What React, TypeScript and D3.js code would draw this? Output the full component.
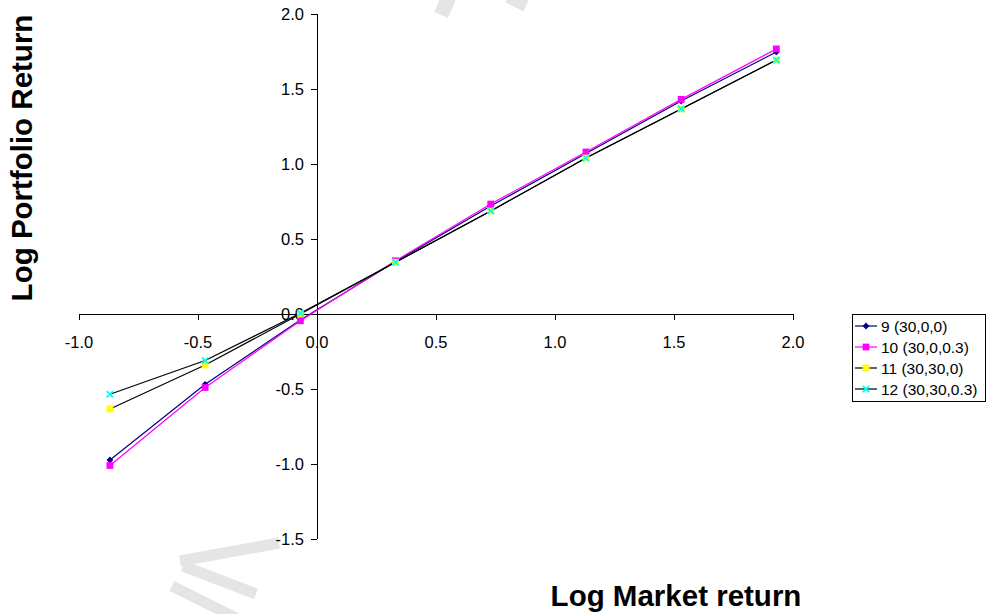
import React from "react";
import * as d3 from "d3";

const xValues = [-0.87, -0.47, -0.07, 0.33, 0.73, 1.13, 1.53, 1.93];
const series9 = [-0.973, -0.469, -0.04, 0.35, 0.72, 1.07, 1.42, 1.747];
const series10 = [-1.01, -0.49, -0.045, 0.355, 0.733, 1.08, 1.431, 1.767];
const series11 = [-0.633, -0.34, 0.0, 0.345, 0.687, 1.04, 1.367, 1.693];
const series12 = [-0.535, -0.31, 0.005, 0.345, 0.687, 1.04, 1.367, 1.693];
const seriesNames = ["9 (30,0,0)", "10 (30,0,0.3)", "11 (30,30,0)", "12 (30,30,0.3)"];
const xTicks = [-1.0, -0.5, 0.0, 0.5, 1.0, 1.5, 2.0];
const yTicks = [-1.5, -1.0, -0.5, 0.0, 0.5, 1.0, 1.5, 2.0];

const FONT = "'Liberation Sans', Arial, sans-serif";

type Marker = "diamond" | "square" | "x";
const seriesStyle: { line: string; fill: string; marker: Marker }[] = [
  { line: "#000080", fill: "#000080", marker: "diamond" },
  { line: "#FF00FF", fill: "#FF00FF", marker: "square" },
  { line: "#000000", fill: "#FFFF00", marker: "square" },
  { line: "#000000", fill: "#00FFFF", marker: "x" },
];

function MarkerShape({ type, x, y, color }: { type: Marker; x: number; y: number; color: string }) {
  if (type === "diamond") {
    const s = 3.4;
    return <path d={`M${x},${y - s}L${x + s},${y}L${x},${y + s}L${x - s},${y}Z`} fill={color} />;
  }
  if (type === "square") {
    const s = 3.4;
    return <rect x={x - s} y={y - s} width={2 * s} height={2 * s} fill={color} />;
  }
  const s = 3.2;
  return (
    <path d={`M${x - s},${y - s}L${x + s},${y + s}M${x - s},${y + s}L${x + s},${y - s}`} stroke={color} strokeWidth={1.8} fill="none" />
  );
}

const fmt = (t: number) => t.toFixed(1);

export default function App() {
  const width = 992;
  const height = 614;
  const x = d3.scaleLinear().domain([-1, 2]).range([79, 793]);
  const y = d3.scaleLinear().domain([-1.5, 2]).range([539, 14]);
  const allSeries = [series9, series10, series11, series12];
  const line = d3
    .line<number>()
    .x((_, i) => x(xValues[i]))
    .y((d) => y(d));
  const x0 = x(0);
  const y0 = y(0);
  const legendX = 852;
  const legendY = 314;
  const legendRowY = [326, 347, 368, 389];

  return (
    <svg
      width={width}
      height={height}
      style={{ position: "absolute", left: 0, top: 0, background: "#fff" }}
      fontFamily={FONT}
    >
      <rect width={width} height={height} fill="#fff" />
      {/* watermark fragments */}
      <g stroke="#e5e5e5" strokeWidth={11} fill="none" strokeLinecap="butt">
        <line x1={441} y1={15} x2={449} y2={-3} strokeWidth={15} />
        <line x1={508} y1={-3} x2={526} y2={6} strokeWidth={12} />
        <line x1={180} y1={561} x2={279} y2={543} />
        <line x1={183} y1={566} x2={256} y2={594} />
        <line x1={172} y1={586} x2={236} y2={618} />
      </g>

      {/* axes */}
      <g stroke="#000" strokeWidth={1} shapeRendering="crispEdges">
        <line x1={x(-1)} x2={x(2)} y1={y0} y2={y0} />
        <line x1={x0} x2={x0} y1={y(2)} y2={y(-1.5)} />
        {xTicks.map((t) => (
          <line key={"xt" + t} x1={x(t)} x2={x(t)} y1={y0} y2={y0 + 6} />
        ))}
        {yTicks.map((t) => (
          <line key={"yt" + t} x1={x0 - 6} x2={x0} y1={y(t)} y2={y(t)} />
        ))}
      </g>
      <g fontSize={16.5} fill="#000">
        {xTicks.map((t) => (
          <text key={"xl" + t} x={x(t)} y={y0 + 34} textAnchor="middle">
            {fmt(t)}
          </text>
        ))}
        {yTicks.map((t) => (
          <text key={"yl" + t} x={x0 - 13} y={y(t) + 6} textAnchor="end">
            {fmt(t)}
          </text>
        ))}
      </g>

      {/* series */}
      {allSeries.map((s, i) => (
        <path key={"l" + i} d={line(s) || ""} fill="none" stroke={seriesStyle[i].line} strokeWidth={1.2} />
      ))}
      {allSeries.map((s, i) =>
        s.map((v, j) => (
          <MarkerShape key={`m${i}-${j}`} type={seriesStyle[i].marker} x={x(xValues[j])} y={y(v)} color={seriesStyle[i].fill} />
        ))
      )}

      {/* axis titles */}
      <text x={676} y={606} textAnchor="middle" fontSize={29.5} fontWeight="bold">
        Log Market return
      </text>
      <text transform={`translate(32,158) rotate(-90)`} textAnchor="middle" fontSize={29.5} fontWeight="bold">
        Log Portfolio Return
      </text>

      {/* legend */}
      <rect x={legendX} y={legendY} width={133} height={87} fill="#fff" stroke="#000" strokeWidth={1} shapeRendering="crispEdges" />
      {seriesNames.map((name, i) => (
        <g key={"lg" + i}>
          <line x1={855} x2={877} y1={legendRowY[i]} y2={legendRowY[i]} stroke={seriesStyle[i].line} strokeWidth={1.2} />
          <MarkerShape type={seriesStyle[i].marker} x={866} y={legendRowY[i]} color={seriesStyle[i].fill} />
          <text x={881} y={legendRowY[i] + 5.5} fontSize={15.5}>
            {name}
          </text>
        </g>
      ))}
    </svg>
  );
}
